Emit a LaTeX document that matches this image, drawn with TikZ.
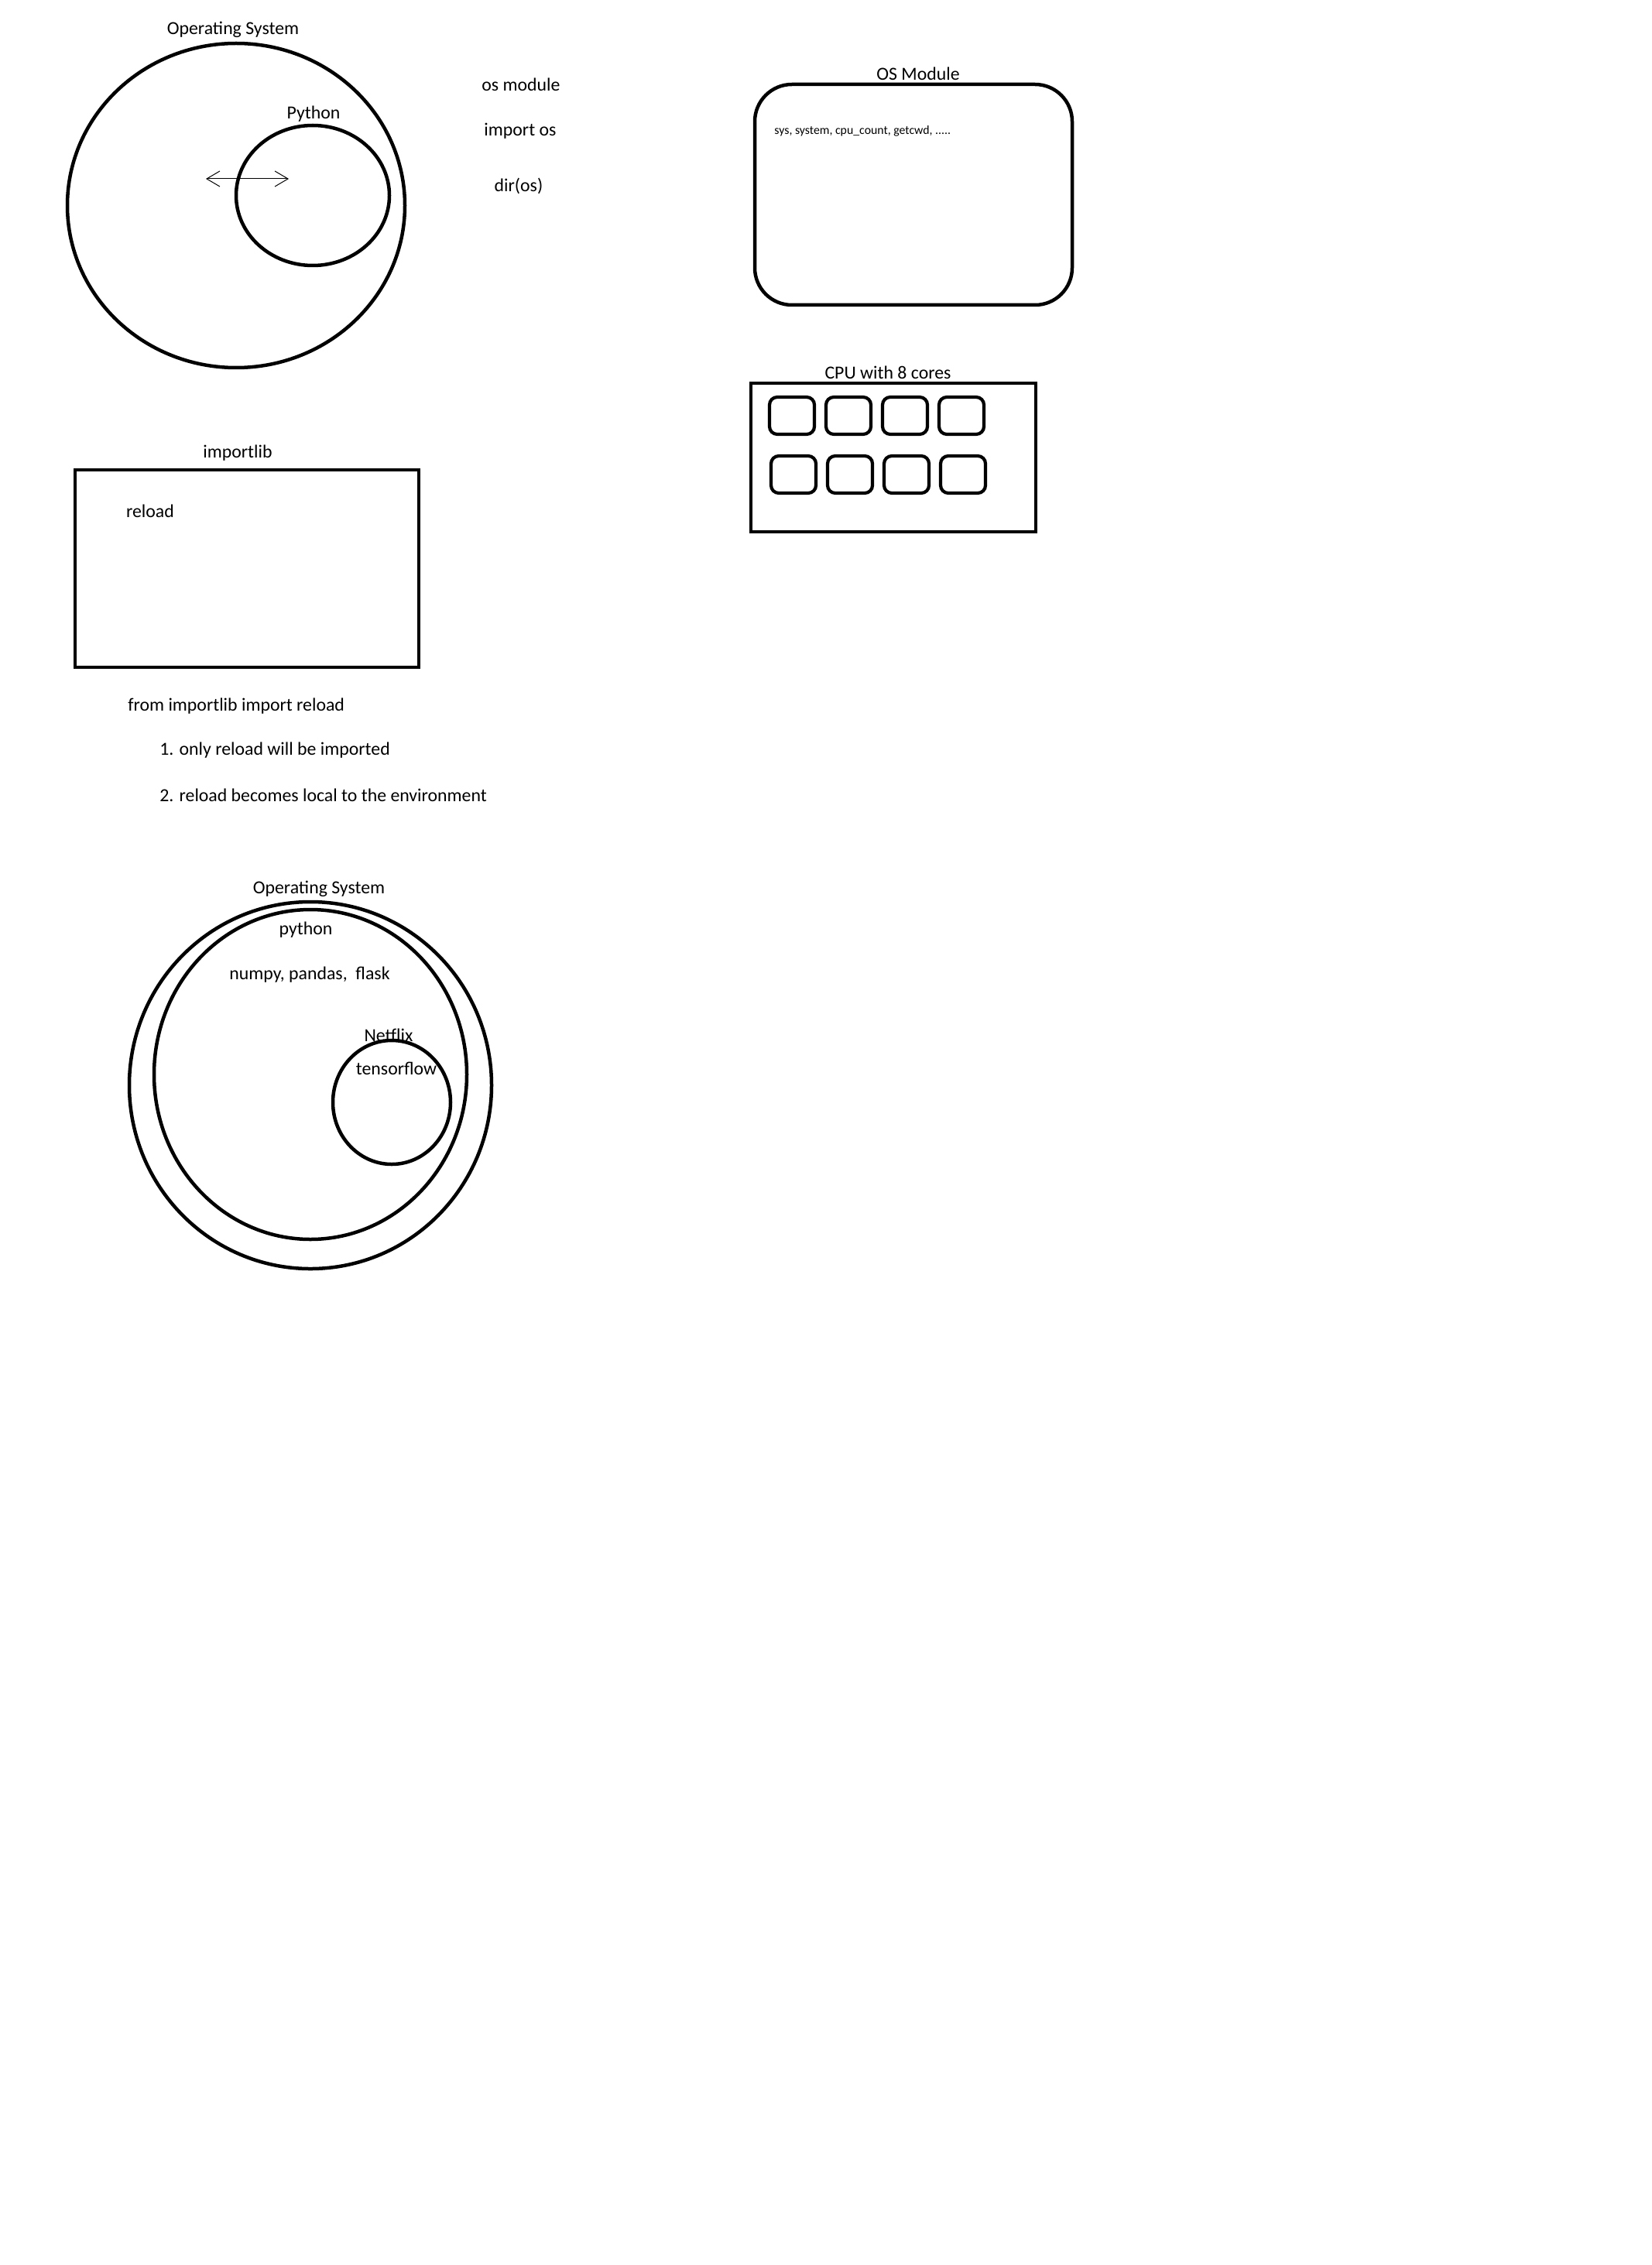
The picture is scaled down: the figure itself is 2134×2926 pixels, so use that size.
\documentclass[tikz,border=0pt]{standalone}
\usepackage{fontspec}
\setmainfont{Carlito}
\usepackage{tikz}
\usetikzlibrary{arrows.meta,positioning}

\begin{document}
\begin{tikzpicture}[x=0.5pt,y=-0.5pt,
    font=\fontsize{11.9pt}{14pt}\selectfont,
    ring/.style={draw,line width=2.25pt},
    frame/.style={draw,line width=2.25pt},
    core/.style={draw,line width=2.1pt,rounded corners=5pt},
    txt/.style={inner sep=0pt},
    tiny/.style={inner sep=0pt,font=\fontsize{7.9pt}{9pt}\selectfont}]
  \path[use as bounding box,fill=white] (0,0) rectangle (2134,2926);

  % OS with python inside
  \coordinate (osc) at (305,265.5);
  \coordinate (pyc) at (404,252.5);
  \draw[ring] (osc) ellipse [x radius=218,y radius=209.5];
  \draw[ring] (pyc) ellipse [x radius=99,y radius=90.5];
  \node[txt] (oslbl) at (301,38) {Operating System};
  \node[txt] (pylbl) at (405,147) {Python};
  \coordinate (arrl) at (266,231);
  \coordinate (arrr) at (373,231);
  \draw[{Straight Barb[length=8.5pt,width=10pt]}-{Straight Barb[length=8.5pt,width=10pt]},
        line width=0.5pt] (arrl) -- (arrr);

  \node[txt] (osmod) at (673,109) {os module};
  \node[txt] (impos) at (672,169) {import os};
  \node[txt] (diros) at (670,240) {dir(os)};

  % os module box
  \draw[frame,rounded corners=24pt] (975,109) rectangle (1385,394);
  \node[txt] (modlbl) at (1186,95) {OS Module};
  \node[tiny,anchor=west] (funcs) at (1000,169) {sys, system, cpu\_count, getcwd, .....};

  % cpu
  \draw[frame] (970,495) rectangle (1338,687);
  \node[txt] (cpulbl) at (1147,481) {CPU with 8 cores};
  \foreach \y/\xo in {513/994,589/996}
    \foreach \i in {0,...,3}
      \draw[core] (\xo+73*\i,\y) rectangle ++(58,48);

  % importlib
  \draw[frame] (97,607) rectangle (541,862);
  \node[txt] (liblbl) at (307,585) {importlib};
  \node[txt] (reload) at (194,660) {reload};
  \node[txt,anchor=west] (fromimp) at (165,912) {from importlib import reload};
  \node[txt,anchor=west] (note1) at (206,969) {1. only reload will be imported};
  \node[txt,anchor=west] (note2) at (206,1027) {2. reload becomes local to the environment};

  % OS > python > netflix
  \coordinate (os2c) at (401,1402);
  \coordinate (py2c) at (401,1388);
  \coordinate (nfc) at (506,1424);
  \draw[ring] (os2c) ellipse [x radius=234,y radius=237];
  \draw[ring] (py2c) ellipse [x radius=202,y radius=213];
  \draw[ring] (nfc) ellipse [x radius=76,y radius=80];
  \node[txt] (os2lbl) at (412,1148) {Operating System};
  \node[txt] (py2lbl) at (395,1201) {python};
  \node[txt] (pkgs) at (400,1259) {numpy, pandas,\ \ flask};
  \node[txt] (nflbl) at (502,1337) {Netflix};
  \node[txt] (tflbl) at (512,1380) {tensorflow};
\end{tikzpicture}
\end{document}
